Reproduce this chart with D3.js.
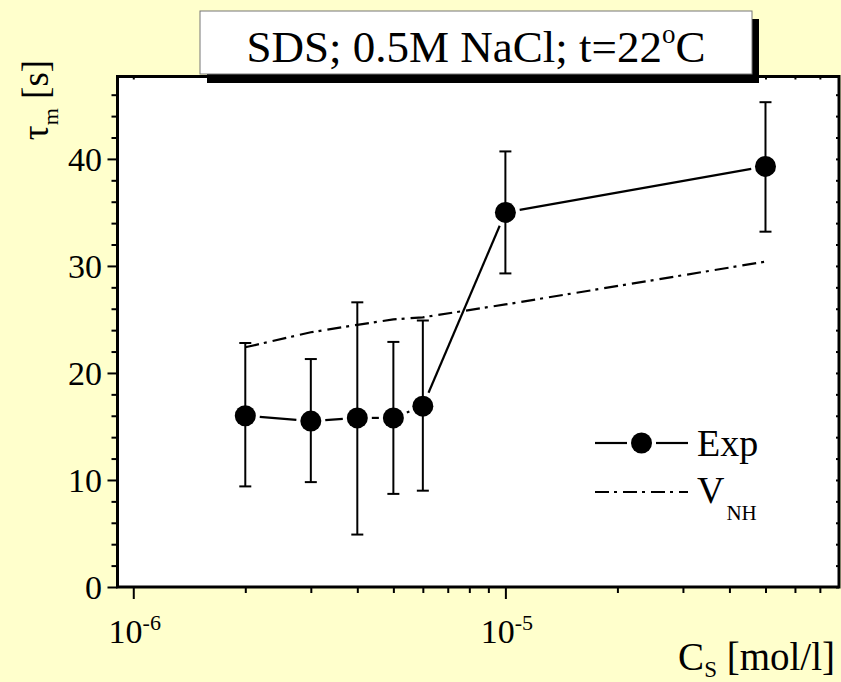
<!DOCTYPE html>
<html>
<head>
<meta charset="utf-8">
<title>SDS; 0.5M NaCl</title>
<script src="https://cdnjs.cloudflare.com/ajax/libs/d3/7.8.5/d3.min.js"></script>
<style>
  body { margin: 0; background: #ffffcc; }
  svg { display: block; font-family: 'Liberation Serif', 'Times New Roman', serif; }
  .tick line { stroke: #000; stroke-width: 2; }
</style>
</head>
<body>
<script>
// surfactant concentration, mol/l
var conc = [2e-6, 3e-6, 4e-6, 5e-6, 6e-6, 1e-5, 5e-5];
// measured tau_m [s] with error bar ends
var tauExp = [16.0, 15.5, 15.8, 15.8, 16.9, 35.0, 39.3];
var errHigh = [22.8, 21.3, 26.6, 22.9, 24.9, 40.7, 45.3];
var errLow = [9.4, 9.8, 4.9, 8.7, 9.0, 29.3, 33.2];
// V_NH model curve
var tauVNH = [22.4, 23.8, 24.5, 25.0, 25.2, 26.4, 30.4];

var yTicks = [0, 10, 20, 30, 40];
var xTicks = [1e-6, 1e-5];
var xTickExp = ['-6', '-5'];

var W = 841, H = 682;
var m = {left: 117.5, top: 76.5, right: 839, bottom: 587};

var svg = d3.select('body').append('svg')
  .attr('width', W)
  .attr('height', H);

svg.append('rect')
  .attr('width', W).attr('height', H)
  .attr('fill', '#ffffcc');

var x = d3.scaleLog().domain([9.07e-7, 7.88e-5]).range([m.left, m.right]);
var y = d3.scaleLinear().domain([0, 47.7]).range([m.bottom, m.top]);

// plot area
svg.append('rect')
  .attr('x', m.left).attr('y', m.top)
  .attr('width', m.right - m.left).attr('height', m.bottom - m.top)
  .attr('fill', '#fff');

// minor ticks
var xMinor = x.ticks().filter(function(d) { return xTicks.indexOf(d) < 0; });
var yMinor = d3.range(0, 47.7, 2).filter(function(d) { return d % 10 != 0; });

function axisG(axis, tx, ty) {
  var g = svg.append('g')
    .attr('transform', 'translate(' + tx + ',' + ty + ')')
    .call(axis);
  g.select('.domain').remove();
  return g;
}

// bottom axis
axisG(d3.axisBottom(x).tickValues(xTicks).tickSize(12).tickFormat(''), 0, m.bottom);
axisG(d3.axisBottom(x).tickValues(xMinor).tickSize(6).tickFormat(''), 0, m.bottom);
// top axis, small inward ticks
axisG(d3.axisBottom(x).tickValues(xMinor.concat(xTicks)).tickSize(3).tickFormat(''), 0, m.top);

// left axis
axisG(d3.axisLeft(y).tickValues(yTicks).tickSize(10).tickFormat(''), m.left, 0);
axisG(d3.axisLeft(y).tickValues(yMinor).tickSize(6).tickFormat(''), m.left, 0);
// right axis, small inward ticks
axisG(d3.axisRight(y).tickValues(yMinor.concat(yTicks)).tickSize(-3).tickFormat(''), m.right, 0);

// y tick labels
svg.selectAll('.ylab')
  .data(yTicks)
  .enter().append('text')
    .attr('x', 102)
    .attr('y', function(d) { return y(d); })
    .attr('dy', '0.35em')
    .attr('text-anchor', 'end')
    .attr('font-size', 34)
    .text(function(d) { return d; });

// x tick labels 10^n
var xl = svg.selectAll('.xlab')
  .data(xTicks)
  .enter().append('text')
    .attr('x', function(d) { return x(d) + 1.5; })
    .attr('y', 643)
    .attr('text-anchor', 'middle')
    .attr('font-size', 34);
xl.append('tspan').text('10');
xl.append('tspan')
  .attr('font-size', 22)
  .attr('dy', -13)
  .text(function(d, i) { return xTickExp[i]; });

// frame
svg.append('rect')
  .attr('x', m.left).attr('y', m.top)
  .attr('width', m.right - m.left).attr('height', m.bottom - m.top)
  .attr('fill', 'none')
  .attr('stroke', '#000')
  .attr('stroke-width', 3);

// V_NH dash-dot curve
var line = d3.line()
  .x(function(d, i) { return x(conc[i]); })
  .y(function(d) { return y(d); });

svg.append('path')
  .datum(tauVNH)
  .attr('d', line)
  .attr('fill', 'none')
  .attr('stroke', '#000')
  .attr('stroke-width', 2.2)
  .attr('stroke-dasharray', '14,5,3,6');

// error bars
var eb = svg.append('g').attr('stroke', '#000').attr('stroke-width', 2);
conc.forEach(function(c, i) {
  var cx = x(c);
  eb.append('line').attr('x1', cx).attr('x2', cx).attr('y1', y(errHigh[i])).attr('y2', y(errLow[i]));
  eb.append('line').attr('x1', cx - 6).attr('x2', cx + 6).attr('y1', y(errHigh[i])).attr('y2', y(errHigh[i]));
  eb.append('line').attr('x1', cx - 6).attr('x2', cx + 6).attr('y1', y(errLow[i])).attr('y2', y(errLow[i]));
});

// exp connecting segments, stopping short of markers
var r = 10.5, gap = 4;
for (var i = 0; i < conc.length - 1; i++) {
  var x1 = x(conc[i]), y1 = y(tauExp[i]);
  var x2 = x(conc[i + 1]), y2 = y(tauExp[i + 1]);
  var len = Math.hypot(x2 - x1, y2 - y1);
  var ux = (x2 - x1) / len, uy = (y2 - y1) / len;
  var s = r + gap;
  if (len > 2 * s) {
    svg.append('line')
      .attr('x1', x1 + ux * s).attr('y1', y1 + uy * s)
      .attr('x2', x2 - ux * s).attr('y2', y2 - uy * s)
      .attr('stroke', '#000')
      .attr('stroke-width', 2.2);
  }
}

svg.selectAll('.pt')
  .data(tauExp)
  .enter().append('circle')
    .attr('cx', function(d, i) { return x(conc[i]); })
    .attr('cy', function(d) { return y(d); })
    .attr('r', r)
    .attr('fill', '#000');

// legend
var lg = svg.append('g');
lg.append('line').attr('x1', 595).attr('x2', 627).attr('y1', 443).attr('y2', 443)
  .attr('stroke', '#000').attr('stroke-width', 2.2);
lg.append('line').attr('x1', 656).attr('x2', 688).attr('y1', 443).attr('y2', 443)
  .attr('stroke', '#000').attr('stroke-width', 2.2);
lg.append('circle').attr('cx', 641.5).attr('cy', 443).attr('r', r).attr('fill', '#000');
lg.append('text').attr('x', 697).attr('y', 456).attr('font-size', 38).text('Exp');

lg.append('line').attr('x1', 595).attr('x2', 688).attr('y1', 492).attr('y2', 492)
  .attr('stroke', '#000').attr('stroke-width', 2.2)
  .attr('stroke-dasharray', '14,5,3,6');
var vl = lg.append('text').attr('x', 697).attr('y', 503).attr('font-size', 38);
vl.append('tspan').text('V');
vl.append('tspan').attr('font-size', 21).attr('dy', 17).attr('dx', 2).text('NH');

// axis titles
var xt = svg.append('text')
  .attr('x', 835).attr('y', 670)
  .attr('text-anchor', 'end')
  .attr('font-size', 39);
xt.append('tspan').text('C');
xt.append('tspan').attr('font-size', 23).attr('dy', 7).text('S');
xt.append('tspan').attr('dy', -7).text(' [mol/l]');

var yt = svg.append('text')
  .attr('transform', 'translate(48,100) rotate(-90)')
  .attr('text-anchor', 'middle')
  .attr('font-size', 37);
yt.append('tspan').text('\u03c4');
yt.append('tspan').attr('font-size', 22).attr('dy', 10).text('m');
yt.append('tspan').attr('dy', -10).text(' [s]');

// title box with drop shadow
svg.append('rect')
  .attr('x', 207).attr('y', 19).attr('width', 552).attr('height', 64)
  .attr('fill', '#000');
svg.append('rect')
  .attr('x', 200).attr('y', 11).attr('width', 552).attr('height', 63)
  .attr('fill', '#fff')
  .attr('stroke', '#777')
  .attr('stroke-width', 1);
var tt = svg.append('text')
  .attr('x', 476).attr('y', 62)
  .attr('text-anchor', 'middle')
  .attr('font-size', 45);
tt.append('tspan').text('SDS; 0.5M NaCl; t=22');
tt.append('tspan').attr('font-size', 27).attr('dy', -19).text('o');
tt.append('tspan').attr('dy', 19).text('C');
</script>
</body>
</html>
